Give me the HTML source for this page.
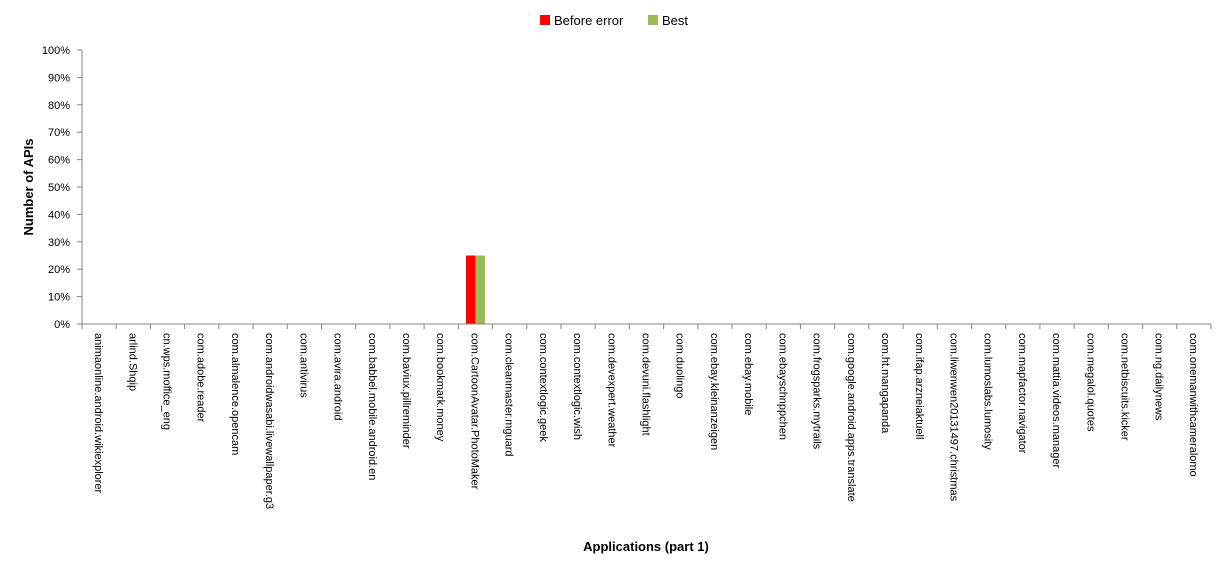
<!DOCTYPE html>
<html><head><meta charset="utf-8"><style>
body{margin:0;background:#fff;}
svg{display:block;font-family:"Liberation Sans",sans-serif;}
</style></head><body>
<svg id="chart" width="1225" height="572">
<g id="legend">
 <rect x="540" y="15" width="10" height="10" fill="#ff0000"/>
 <text x="554" y="25" font-size="13" fill="#000">Before error</text>
 <rect x="648" y="15" width="10" height="10" fill="#9bbb59"/>
 <text x="662" y="25" font-size="13" fill="#000">Best</text>
</g>
<text transform="translate(33,187) rotate(-90)" text-anchor="middle" font-size="13" font-weight="bold">Number of APIs</text>
<text x="646" y="551" text-anchor="middle" font-size="13" font-weight="bold">Applications (part 1)</text>
<g id="plot"></g>
</svg>
<script>
const categories=["animaonline.android.wikiexplorer","arlind.Shqip","cn.wps.moffice_eng","com.adobe.reader","com.almalence.opencam","com.androidwasabi.livewallpaper.g3","com.antivirus","com.avira.android","com.babbel.mobile.android.en","com.baviux.pillreminder","com.bookmark.money","com.CartoonAvatar.PhotoMaker","com.cleanmaster.mguard","com.contextlogic.geek","com.contextlogic.wish","com.devexpert.weather","com.devuni.flashlight","com.duolingo","com.ebay.kleinanzeigen","com.ebay.mobile","com.ebayschnppchen","com.frogsparks.mytrails","com.google.android.apps.translate","com.ht.mangapanda","com.ifap.arzneiaktuell","com.liwenwen20131497.christmas","com.lumoslabs.lumosity","com.mapfactor.navigator","com.mattia.videos.manager","com.megalol.quotes","com.netbiscuits.kicker","com.ng.dailynews","com.onemanwithcameralomo"];
const beforeError=[0,0,0,0,0,0,0,0,0,0,0,25,0,0,0,0,0,0,0,0,0,0,0,0,0,0,0,0,0,0,0,0,0];
const best=[0,0,0,0,0,0,0,0,0,0,0,25,0,0,0,0,0,0,0,0,0,0,0,0,0,0,0,0,0,0,0,0,0];
const yTicks=[0,10,20,30,40,50,60,70,80,90,100];
const NS="http://www.w3.org/2000/svg";
const g=document.getElementById('plot');
const x0=82,x1=1211,y0=324,yTop=50;
const w=(x1-x0)/categories.length;
const ys=v=>y0-(v/100)*(y0-yTop);
const xs=i=>x0+i*w;
function mk(t,a){const e=document.createElementNS(NS,t);for(const k in a)e.setAttribute(k,a[k]);g.appendChild(e);return e;}
yTicks.forEach(t=>{
 const l=mk('line',{x1:x0-5,x2:x0,y1:ys(t),y2:ys(t),stroke:'#868686'});
 
 
 const tx=mk('text',{x:x0-12,y:ys(t)+4,'text-anchor':'end','font-size':'11'});
 tx.textContent=t+'%';
 
 
});
const ya=mk('line',{x1:x0,x2:x0,y1:yTop,y2:y0,stroke:'#868686'});


const bw=9.5;
categories.forEach((c,i)=>{
 const cx=xs(i)+w/2;
 const r=mk('rect',{x:cx-bw,y:ys(beforeError[i]),width:bw,height:y0-ys(beforeError[i]),fill:'#ff0000'});
 
 
 const b=mk('rect',{x:cx,y:ys(best[i]),width:bw,height:y0-ys(best[i]),fill:'#9bbb59'});
 
 
 const lb=mk('text',{transform:`translate(${cx-4},333) rotate(90)`,'font-size':'11'});
 lb.textContent=c;
 
 
});
for(let i=0;i<=categories.length;i++){
 const t=mk('line',{x1:xs(i),x2:xs(i),y1:y0,y2:y0+5,stroke:'#868686'});
 
 
}
const xa=mk('line',{x1:x0,x2:x1,y1:y0,y2:y0,stroke:'#868686'});


</script>
</body></html>
